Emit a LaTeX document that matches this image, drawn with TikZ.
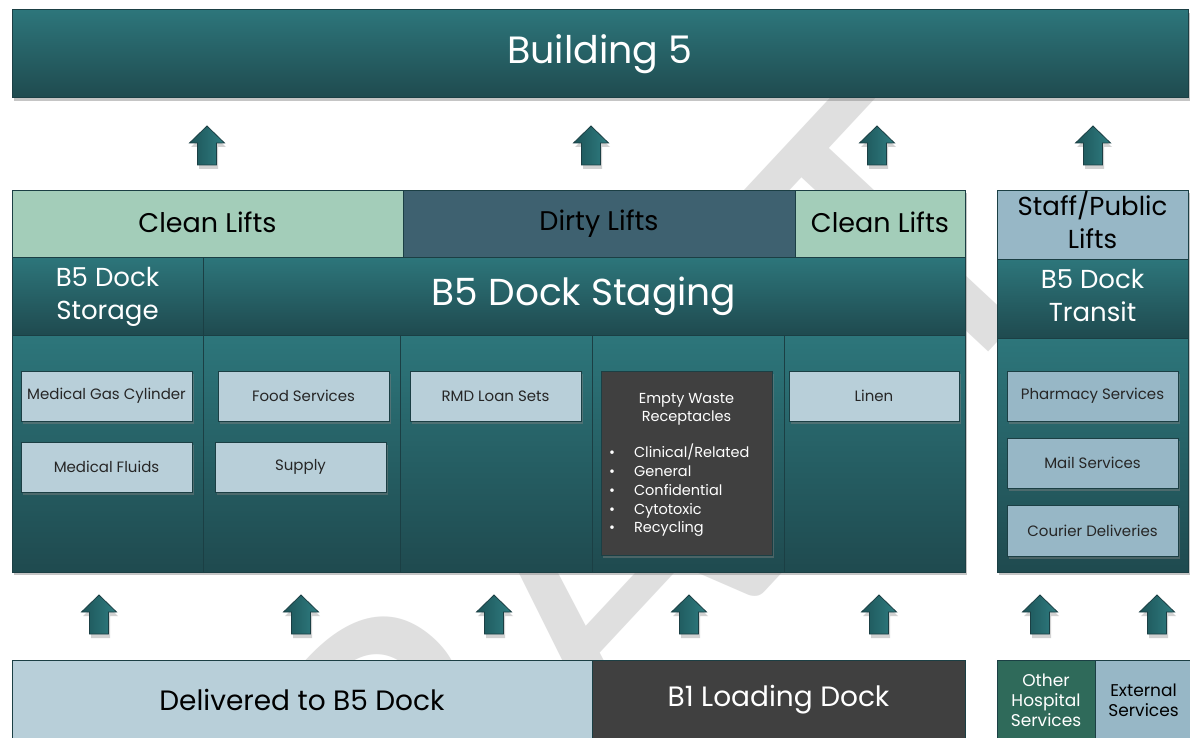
\documentclass[tikz,border=0pt]{standalone}
\usepackage{fontspec}
\setmainfont{Poppins}
\newfontfamily\wmfont{Carlito}
\usetikzlibrary{shadows}
\definecolor{tealtop}{HTML}{2D767B}
\definecolor{tealbot}{HTML}{1F4A4F}
\definecolor{edge}{HTML}{1B3F44}
\definecolor{cleanc}{HTML}{A3CDB9}
\definecolor{dirtyc}{HTML}{3E6170}
\definecolor{paleblue}{HTML}{B8CFD9}
\definecolor{greyblue}{HTML}{97B7C6}
\definecolor{charcoal}{HTML}{404040}
\definecolor{hospgreen}{HTML}{2F6A5A}
\definecolor{wm}{HTML}{DFDFDF}
\definecolor{arrL}{HTML}{1D5458}
\definecolor{arrR}{HTML}{2F7D81}
\newcommand{\fs}[1]{\fontsize{#1}{1.27\dimexpr #1pt\relax}\selectfont}
\newcommand{\twol}[3]{\raisebox{#3}{\begin{tabular}{@{}c@{}}#1\\#2\end{tabular}}}
\tikzset{
  cell/.style={draw=edge, line width=1pt, inner sep=0pt, outer sep=0pt, anchor=north west, align=center},
  tealcell/.style={cell, top color=tealtop, bottom color=tealbot, text=white},
  shad/.style={drop shadow={shadow xshift=2pt, shadow yshift=-3pt, opacity=0.45}},
  item/.style={cell, shad, fill=paleblue, text=black!85, font=\fs{15}, minimum width=171pt, minimum height=50pt},
  uparrow/.style={draw=edge, line width=0.8pt, line join=miter,
    left color=arrL, right color=arrR,
    drop shadow={shadow xshift=1.5pt, shadow yshift=-4pt, opacity=0.35}},
}
% block arrow pointing up, centred at (#2,#3)
\newcommand{\uparr}[3]{%
  \coordinate (#1) at (#2,#3);
  \path[uparrow] ([shift={(0,-20)}]#1) -- ++(17.5,17) -- ++(-8,0) -- ++(0,22) -- ++(-19,0) -- ++(0,-22) -- ++(-8,0) -- cycle;}
\begin{document}
\begin{tikzpicture}[x=1pt, y=-1pt]
\useasboundingbox (0,0) rectangle (1190,738);
\fill[white] (0,0) rectangle (1190,738);
% watermark
\node[text=wm, rotate=47, inner sep=0pt, font=\wmfont\fontsize{450}{450}\selectfont] (draft) at (560,600) {DRAFT};

% top building
\node[tealcell, shad, minimum width=1176pt, minimum height=88pt, font=\fs{38}] (b5) at (12,10) {\raisebox{-5pt}{Building 5}};

% arrows top
\uparr{at1}{207}{146}
\uparr{at2}{591}{146}
\uparr{at3}{877}{146}
\uparr{at4}{1093}{146}

% middle block
\node[cell, shad, fill=tealbot, minimum width=953pt, minimum height=382pt] (midbg) at (12,190) {};
\node[cell, fill=cleanc, text=black, font=\fs{27}, minimum width=391pt, minimum height=67pt] (clean1) at (12,190) {\raisebox{3.5pt}{Clean Lifts}};
\node[cell, fill=dirtyc, text=black, font=\fs{27}, minimum width=392pt, minimum height=67pt] (dirty) at (403,190) {Dirty Lifts};
\node[cell, fill=cleanc, text=black, font=\fs{27}, minimum width=170pt, minimum height=67pt] (clean2) at (795,190) {\raisebox{3.5pt}{Clean Lifts}};
\node[tealcell, font=\fs{26}, minimum width=191pt, minimum height=78pt] (storage) at (12,257) {\twol{B5 Dock}{Storage}{-4.5pt}};
\node[tealcell, font=\fs{37.5}, minimum width=762pt, minimum height=78pt] (staging) at (203,257) {\raisebox{-4.5pt}{B5 Dock Staging}};
\node[tealcell, minimum width=191pt, minimum height=237pt] (col1) at (12,335) {};
\node[tealcell, minimum width=197pt, minimum height=237pt] (col2) at (203,335) {};
\node[tealcell, minimum width=192pt, minimum height=237pt] (col3) at (400,335) {};
\node[tealcell, minimum width=192pt, minimum height=237pt] (col4) at (592,335) {};
\node[tealcell, minimum width=181pt, minimum height=237pt] (col5) at (784,335) {};

\node[item] (gas) at (21,371) {Medical Gas Cylinder};
\node[item] (fluids) at (21,442) {Medical Fluids};
\node[item] (food) at (218,371) {Food Services};
\node[item] (supply) at (215,442) {Supply};
\node[item] (rmd) at (410,371) {RMD Loan Sets};
\node[item, minimum width=170pt] (linen) at (789,371) {Linen};
\node[item, fill=charcoal, text=white, font=\fs{14.5}, minimum height=184pt] (waste) at (601,371)
  {\parbox{171pt}{\vspace*{4pt}\centering Empty Waste\\Receptacles\par\vspace{17pt}%
   \raggedright\fontsize{14.5}{18.8}\selectfont
   \hspace*{8pt}\makebox[25pt][l]{\textbullet}Clinical/Related\\
   \hspace*{8pt}\makebox[25pt][l]{\textbullet}General\\
   \hspace*{8pt}\makebox[25pt][l]{\textbullet}Confidential\\
   \hspace*{8pt}\makebox[25pt][l]{\textbullet}Cytotoxic\\
   \hspace*{8pt}\makebox[25pt][l]{\textbullet}Recycling}};

% right column
\node[cell, shad, fill=tealbot, minimum width=191pt, minimum height=382pt] (rightbg) at (997,190) {};
\node[cell, fill=greyblue, text=black, font=\fs{26}, minimum width=191pt, minimum height=69pt] (staff) at (997,190) {\twol{Staff/Public}{Lifts}{2pt}};
\node[tealcell, font=\fs{26}, minimum width=191pt, minimum height=79pt] (transit) at (997,259) {\twol{B5 Dock}{Transit}{-1pt}};
\node[tealcell, minimum width=191pt, minimum height=234pt] (transbody) at (997,338) {};
\node[item, fill=greyblue] (pharm) at (1007,371) {Pharmacy Services};
\node[item, fill=greyblue] (mail) at (1007,438) {Mail Services};
\node[item, fill=greyblue, minimum height=51pt] (courier) at (1007,505) {Courier Deliveries};

% bottom arrows
\uparr{ab1}{99}{615}
\uparr{ab2}{301}{615}
\uparr{ab3}{494}{615}
\uparr{ab4}{689}{615}
\uparr{ab5}{879}{615}
\uparr{ab6}{1040}{615}
\uparr{ab7}{1157}{615}

% bottom row
\node[cell, fill=paleblue, text=black, font=\fs{28}, minimum width=580pt, minimum height=80pt] (deliv) at (12,660) {Delivered to B5 Dock};
\node[cell, fill=charcoal, text=white, font=\fs{28}, minimum width=373pt, minimum height=80pt] (b1) at (592,660) {\raisebox{-2pt}{B1 Loading Dock}};
\node[cell, fill=hospgreen, text=white, font=\fontsize{17}{20}\selectfont, minimum width=98pt, minimum height=80pt] (other) at (997,660) {Other\\Hospital\\Services};
\node[cell, fill=greyblue, text=black, font=\fontsize{17}{20}\selectfont, minimum width=97pt, minimum height=80pt] (ext) at (1095,660) {External\\Services};
\end{tikzpicture}
\end{document}
